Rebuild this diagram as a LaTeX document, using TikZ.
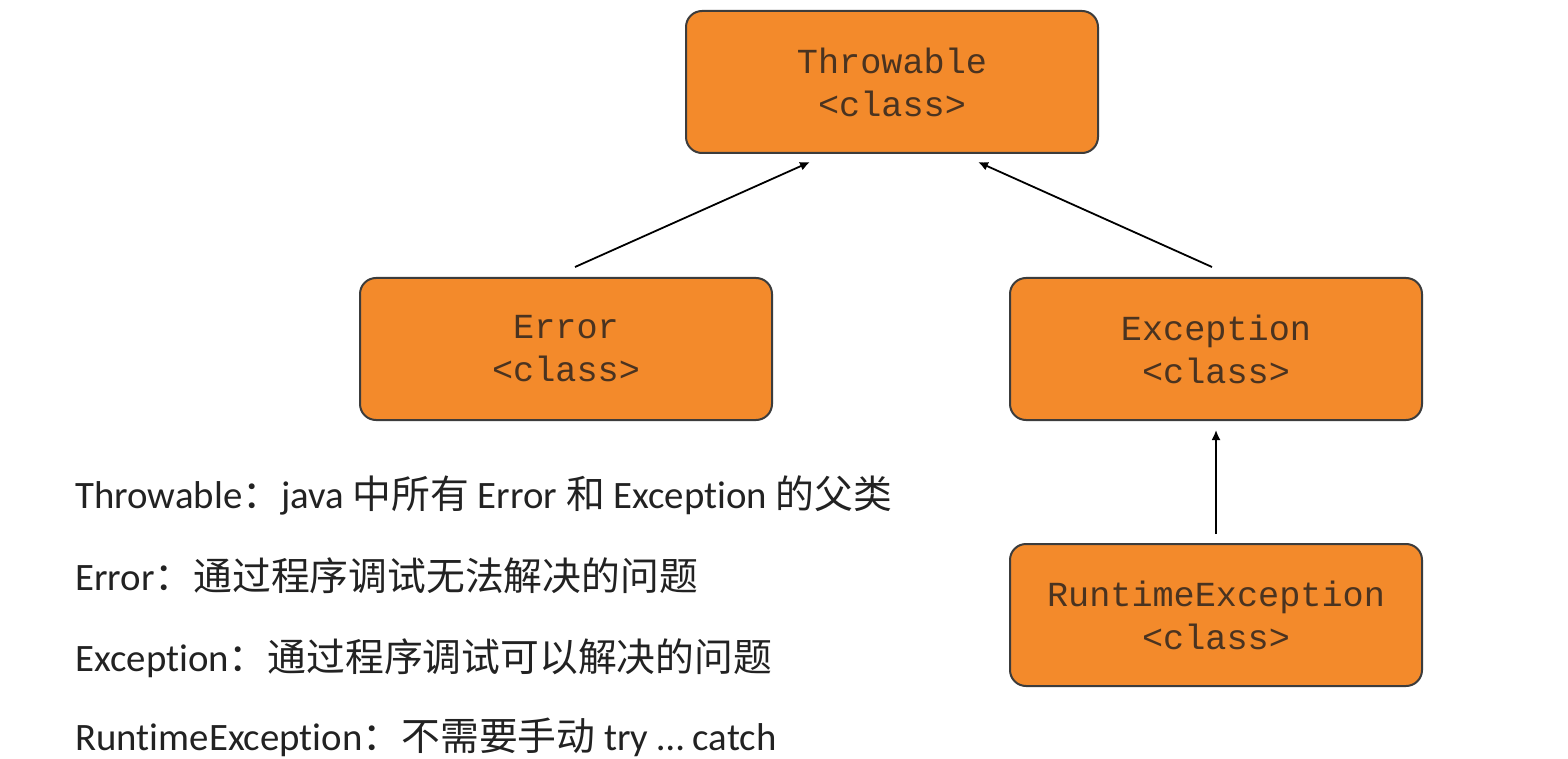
\documentclass[tikz,border=0pt]{standalone}
\usepackage{fontspec}
\setmainfont{Carlito}[RawFeature={-liga;-clig;-dlig}]
\newfontfamily\cjk{Noto Sans CJK SC}
\newfontfamily\codefont{Liberation Mono}
\usetikzlibrary{arrows.meta}
\definecolor{boxfill}{HTML}{F38A2B}
\definecolor{boxline}{HTML}{3C3C3C}
\definecolor{boxtext}{HTML}{4A3320}
\definecolor{notetext}{HTML}{222222}
\tikzset{
  classbox/.style={draw=boxline, line width=1pt, fill=boxfill, rounded corners=8pt,
    minimum width=206pt, minimum height=71pt, inner sep=0pt, align=center,
    text=boxtext, font=\codefont\fontsize{17.6}{21.5}\selectfont},
  inherit/.style={-{Latex[length=5pt,width=4.5pt]}, line width=0.9pt},
  note/.style={anchor=base west, inner sep=0pt, text=notetext, font=\fontsize{19.4}{23}\selectfont}
}

\begin{document}
\begin{tikzpicture}[x=0.5pt,y=-0.5pt]
\path[use as bounding box, fill=white] (0,0) rectangle (1568,759);

\node[classbox] (throwable) at (892,82) {Throwable\\<class>};
\node[classbox] (error) at (566,349) {Error\\<class>};
\node[classbox] (exception) at (1216,349) {Exception\\<class>};
\node[classbox] (runtime) at (1216,615) {RuntimeException\\<class>};

\draw[inherit] ([xshift=4.5pt,yshift=5pt]error.north) -- ([xshift=-41pt,yshift=-4pt]throwable.south);
\draw[inherit] ([xshift=-2pt,yshift=5pt]exception.north) -- ([xshift=43pt,yshift=-4pt]throwable.south);
\draw[inherit] ([yshift=4.5pt]runtime.north) -- ([yshift=-4.5pt]exception.south);

\node[note] (notethrowable) at (75,508) {Throwable{\cjk ：}java {\cjk 中所有} Error {\cjk 和} Exception {\cjk 的父类}};
\node[note] (noteerror) at (75,590) {Error{\cjk ：通过程序调试无法解决的问题}};
\node[note] (noteexception) at (75,671) {Exception{\cjk ：通过程序调试可以解决的问题}};
\node[note] (noteruntime) at (75,750) {RuntimeException{\cjk ：不需要手动} try … catch};
\end{tikzpicture}
\end{document}
